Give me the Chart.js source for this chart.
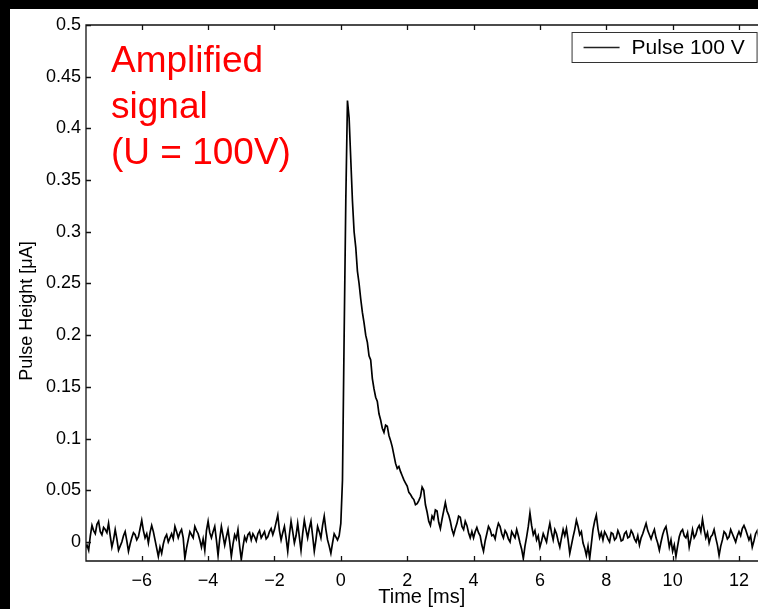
<!DOCTYPE html>
<html>
<head>
<meta charset="utf-8">
<script src="https://cdn.jsdelivr.net/npm/chart.js@4.4.1/dist/chart.umd.min.js"></script>
<style>
  html, body { margin:0; padding:0; background:#000; }
  #wrap { position:absolute; left:10px; top:9px; width:748px; height:600px; background:#fff; }
</style>
</head>
<body>
<div id="wrap"><canvas id="c"></canvas></div>
<script>
// ─── Data ────────────────────────────────────────────────────────────────────
const tStart = -7.7;      // ms, first sample
const tStep  = 0.05;      // ms between samples
const xRange = [-7.68, 12.56];
const yRange = [-0.0184, 0.5];
const xStep  = 2;
const yStep  = 0.05;

// pulse height [µA] before the trigger, t = -7.7 .. -0.05
const preTrigger = [
  -0.006,-0.003,-0.008, 0.006, 0.016, 0.011, 0.008, 0.017, 0.020, 0.010,
   0.007, 0.014, 0.012, 0.009, 0.018, 0.006,-0.005, 0.002, 0.012, 0.003,
  -0.008,-0.004, 0.000, 0.006, 0.010, 0.001,-0.009,-0.002, 0.004, 0.009,
   0.007, 0.002, 0.005, 0.013, 0.021, 0.011, 0.004, 0.008,-0.001, 0.009,
   0.016, 0.010, 0.002,-0.006,-0.014,-0.005,-0.011,-0.002, 0.004, 0.007,
   0.000, 0.004, 0.008, 0.003, 0.015, 0.010, 0.004, 0.009, 0.012, 0.004,
  -0.016,-0.006, 0.002, 0.010, 0.007, 0.004, 0.015, 0.011, 0.008, 0.002,
  -0.005, 0.003,-0.008, 0.011, 0.020, 0.009, 0.004, 0.010, 0.015, 0.002,
  -0.013, 0.003, 0.015, 0.006,-0.003, 0.005, 0.012, 0.000,-0.014,-0.002,
   0.007, 0.003, 0.012,-0.004,-0.017,-0.005, 0.005, 0.001, 0.007, 0.009,
   0.002, 0.008, 0.005, 0.001, 0.008, 0.011, 0.004, 0.007, 0.010, 0.003,
   0.005, 0.010, 0.013, 0.007, 0.012, 0.019, 0.026, 0.011, 0.002, 0.009,
   0.015, 0.004,-0.009, 0.007, 0.020, 0.010,-0.001, 0.006, 0.018, 0.005,
  -0.008, 0.008, 0.021, 0.012, 0.004, 0.013, 0.020, 0.006,-0.009, 0.002,
   0.015, 0.010, 0.004, 0.016, 0.025, 0.012, 0.002,-0.004,-0.011,-0.001,
   0.008, 0.005, 0.002, 0.006
];

// rise and decay, t = 0 .. 3.95
const pulseDecay = [
   0.018, 0.060, 0.200, 0.330, 0.427, 0.410, 0.370, 0.330, 0.300, 0.285,
   0.262, 0.250, 0.235, 0.222, 0.212, 0.200, 0.193, 0.180, 0.176, 0.158,
   0.148, 0.140, 0.136, 0.124, 0.118, 0.110, 0.106, 0.113, 0.112, 0.103,
   0.098, 0.092, 0.084, 0.076, 0.071, 0.073, 0.068, 0.064, 0.060, 0.057,
   0.054, 0.048, 0.046, 0.043, 0.041, 0.036, 0.037, 0.040, 0.044, 0.053,
   0.050, 0.036, 0.029, 0.020, 0.016, 0.025, 0.022, 0.031, 0.030, 0.019,
   0.013, 0.022, 0.030, 0.038, 0.030, 0.026, 0.020, 0.012, 0.007, 0.013,
   0.018, 0.025, 0.024, 0.015, 0.012, 0.020, 0.016, 0.009, 0.004, 0.010
];

// back on the baseline, t = 4.0 .. 12.6
const postPulse = [
   0.004, 0.010, 0.014, 0.009, 0.006,-0.003,-0.009, 0.001, 0.008, 0.015,
   0.012, 0.006, 0.007, 0.003, 0.012, 0.018, 0.015, 0.008, 0.004, 0.011,
   0.008, 0.003, 0.000, 0.010, 0.007, 0.004, 0.012, 0.006,-0.001,-0.007,
  -0.016,-0.004, 0.005, 0.015, 0.028, 0.016, 0.007, 0.011, 0.002, 0.006,
  -0.005, 0.001, 0.008, 0.004, 0.000, 0.010, 0.018, 0.009, 0.002, 0.012,
   0.008, 0.001,-0.005, 0.004, 0.012, 0.006, 0.013, 0.002,-0.011,-0.003,
   0.005, 0.012, 0.021, 0.015, 0.007, 0.010,-0.001,-0.006,-0.013,-0.004,
  -0.016,-0.002, 0.012, 0.020, 0.026, 0.013, 0.004, 0.009, 0.002, 0.010,
   0.007, 0.003, 0.000, 0.009, 0.008, 0.002, 0.004, 0.011, 0.007, 0.001,
   0.002, 0.008, 0.010, 0.004, 0.005, 0.011, 0.008, 0.003, 0.000, 0.006,
  -0.003, 0.004, 0.008, 0.013, 0.018, 0.011, 0.007, 0.003, 0.008, 0.012,
   0.004,-0.001,-0.008, 0.000, 0.007, 0.012, 0.015, 0.006,-0.005, 0.002,
  -0.009,-0.003,-0.014,-0.004, 0.005, 0.010, 0.012, 0.006, 0.004, 0.009,
  -0.005, 0.003, 0.012, 0.004, 0.007, 0.013, 0.016, 0.010, 0.022, 0.012,
   0.004, 0.009,-0.001, 0.005, 0.007, 0.012, 0.004,-0.003,-0.013,-0.004,
   0.002, 0.010, 0.008, 0.003, 0.005, 0.012, 0.008, 0.004, 0.000, 0.006,
   0.010, 0.006, 0.013, 0.016, 0.012, 0.007, 0.002, 0.006,-0.005, 0.001,
   0.008, 0.011, 0.004
];

const seriesLabel = 'Pulse 100 V';
const xTitle      = 'Time [ms]';
const yTitle      = 'Pulse Height [\u03bcA]';
const noteLines   = ['Amplified', 'signal', '(U = 100V)'];

// ─── Style ───────────────────────────────────────────────────────────────────
const FONT = "'Liberation Sans', Arial, Helvetica, sans-serif";
Chart.defaults.font.family = FONT;
Chart.defaults.color = '#000';

const pulse100V = [...preTrigger, ...pulseDecay, ...postPulse];
const points = pulse100V.map((v, i) => ({ x: +(tStart + i * tStep).toFixed(2), y: v }));

// MATLAB-like box: inward ticks, in-axes legend, y label, red note
const matlabBox = {
  id: 'matlabBox',
  afterDraw(chart) {
    const { ctx, chartArea: a, scales: { x, y } } = chart;
    ctx.save();
    ctx.strokeStyle = '#111';
    ctx.lineWidth = 1.3;
    ctx.beginPath();
    ctx.moveTo(a.right + 2, a.top); ctx.lineTo(a.left, a.top);
    ctx.lineTo(a.left, a.bottom); ctx.lineTo(a.right + 2, a.bottom);
    x.ticks.forEach(t => {
      const px = Math.round(x.getPixelForValue(t.value)) + 0.5;
      ctx.moveTo(px, a.bottom); ctx.lineTo(px, a.bottom - 5);
      ctx.moveTo(px, a.top);    ctx.lineTo(px, a.top + 5);
    });
    y.ticks.forEach(t => {
      const py = Math.round(y.getPixelForValue(t.value)) + 0.5;
      ctx.moveTo(a.left, py); ctx.lineTo(a.left + 5, py);
    });
    ctx.stroke();

    // y axis label (sits a little below the axis centre in the original)
    ctx.fillStyle = '#000';
    ctx.font = '18px ' + FONT;
    ctx.textAlign = 'center';
    ctx.textBaseline = 'middle';
    ctx.translate(17, a.top + 286);
    ctx.rotate(-Math.PI / 2);
    ctx.fillText(yTitle, 0, 0);
    ctx.setTransform(1, 0, 0, 1, 0, 0);
    ctx.textAlign = 'left';

    // legend box
    const lx = a.right - 186, ly = a.top + 7, lw = 185, lh = 30;
    ctx.fillStyle = '#fff';
    ctx.fillRect(lx, ly, lw, lh);
    ctx.lineWidth = 1;
    ctx.strokeStyle = '#333';
    ctx.strokeRect(lx + 0.5, ly + 0.5, lw, lh);
    ctx.strokeStyle = '#222';
    ctx.lineWidth = 1.3;
    ctx.beginPath();
    ctx.moveTo(lx + 12, ly + 15.5); ctx.lineTo(lx + 48, ly + 15.5);
    ctx.stroke();
    ctx.fillStyle = '#000';
    ctx.font = '21px ' + FONT;
    ctx.fillText(chart.data.datasets[0].label, lx + 60, ly + 16);

    // red annotation
    ctx.fillStyle = '#ff0000';
    ctx.font = '37px ' + FONT;
    ctx.textBaseline = 'alphabetic';
    noteLines.forEach((s, i) => ctx.fillText(s, a.left + 25, a.top + 47 + i * 46));
    ctx.restore();
  }
};

new Chart(document.getElementById('c'), {
  type: 'line',
  data: {
    datasets: [{
      label: seriesLabel,
      data: points,
      borderColor: '#000',
      borderWidth: 1.7,
      pointRadius: 0,
      tension: 0,
      fill: false,
    }]
  },
  options: {
    responsive: true, maintainAspectRatio: false, animation: false,
    layout: { padding: { top: 16, right: 0, left: 0, bottom: 0 } },
    plugins: { legend: { display: false }, tooltip: { enabled: false } },
    scales: {
      x: {
        type: 'linear', min: xRange[0], max: xRange[1],
        grid: { display: false, drawTicks: false },
        border: { display: false },
        ticks: { stepSize: xStep, includeBounds: false, padding: 9, font: { size: 18 },
                 maxRotation: 0, callback: v => String(v).replace('-', '\u2212') },
        title: { display: true, text: xTitle, font: { size: 20 }, padding: { top: 0, bottom: 0 } },
        afterFit: s => { s.height = 48; }
      },
      y: {
        min: yRange[0], max: yRange[1],
        grid: { display: false, drawTicks: false },
        border: { display: false },
        ticks: { stepSize: yStep, includeBounds: false, padding: 5, font: { size: 18 },
                 callback: v => String(+v.toFixed(2)) },
        afterFit: s => { s.width = 76; }
      }
    }
  },
  plugins: [matlabBox]
});
</script>
</body>
</html>
